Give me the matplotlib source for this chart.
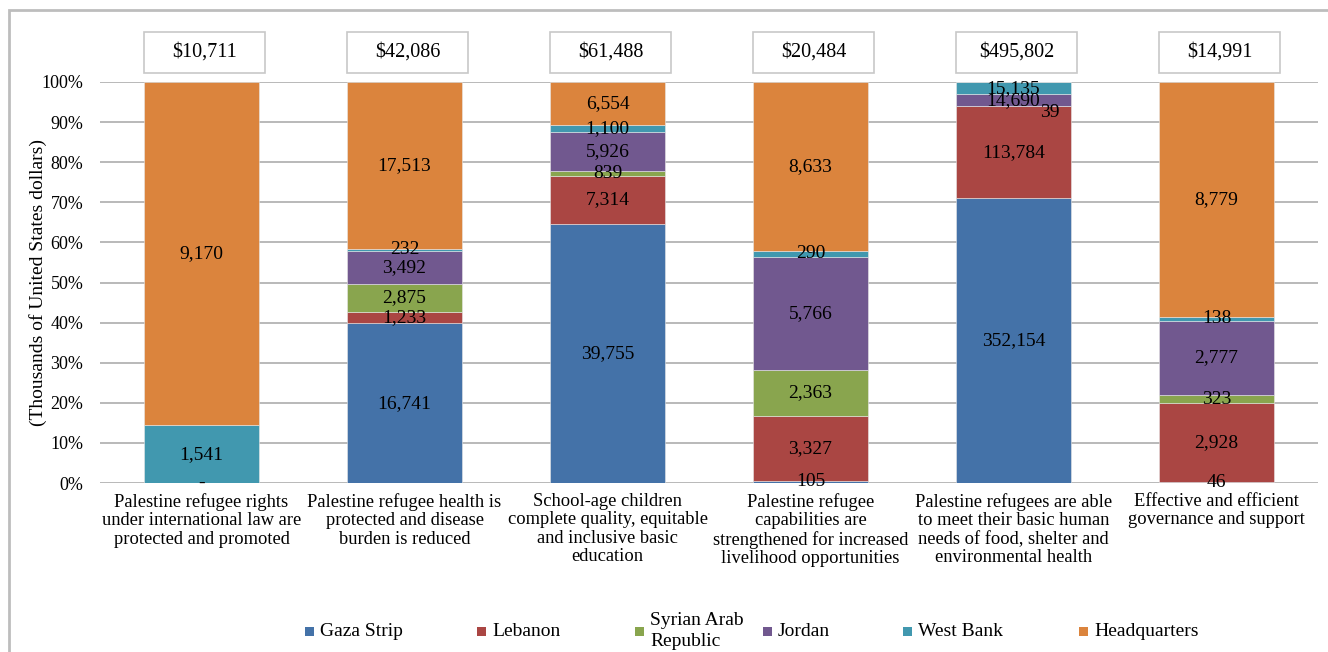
import numpy as np
import matplotlib
matplotlib.use("Agg")
import matplotlib.pyplot as plt
from matplotlib.patches import Rectangle
from matplotlib.ticker import FuncFormatter

plt.rcParams['font.family'] = ['Liberation Serif', 'DejaVu Serif']

categories = [
    "Palestine refugee rights\nunder international law are\nprotected and promoted",
    "Palestine refugee health is\nprotected and disease\nburden is reduced",
    "School-age children\ncomplete quality, equitable\nand inclusive basic\neducation",
    "Palestine refugee\ncapabilities are\nstrengthened for increased\nlivelihood opportunities",
    "Palestine refugees are able\nto meet their basic human\nneeds of food, shelter and\nenvironmental health",
    "Effective and efficient\ngovernance and support",
]
totals = ["$10,711", "$42,086", "$61,488", "$20,484", "$495,802", "$14,991"]

series = ["Gaza Strip", "Lebanon", "Syrian Arab\nRepublic", "Jordan", "West Bank", "Headquarters"]
colors = ["#4472A8", "#AA4643", "#89A54E", "#71588F", "#4198AF", "#DB843D"]

# thousands of US dollars, one list per field
gaza = [0, 16741, 39755, 105, 352154, 46]
lebanon = [0, 1233, 7314, 3327, 113784, 2928]
syria = [0, 2875, 839, 2363, 39, 323]
jordan = [0, 3492, 5926, 5766, 14690, 2777]
west_bank = [1541, 232, 1100, 290, 15135, 138]
headquarters = [9170, 17513, 6554, 8633, 0, 8779]

values = np.array([gaza, lebanon, syria, jordan, west_bank, headquarters], dtype=float)
shares = values / values.sum(axis=0) * 100

W, H = 1328, 652
fig = plt.figure(figsize=(W / 100, H / 100), dpi=100)
ax = fig.add_axes([100 / W, (H - 483) / H, 1218 / W, 401 / H])

x = np.arange(len(categories))
bottom = np.zeros(len(categories))
for k in range(len(series)):
    bars = ax.bar(x, shares[k], 0.57, bottom=bottom, color=colors[k],
                  edgecolor="#e8e8e8", linewidth=0.4, zorder=2)
    labels = []
    for j, v in enumerate(values[k]):
        if v > 0:
            labels.append(f"{int(v):,}")
        elif k == 0 and j == 0:
            labels.append("-")
        else:
            labels.append("")
    txts = ax.bar_label(bars, labels=labels, label_type="center", fontsize=14, color="black")
    if k == 2:
        # tiny Syria segment in the food/shelter bar: label sits just right of centre
        txts[4].set_text("")
        ax.text(x[4] + 0.18, bottom[4] - 1.6, labels[4], ha="center", va="center",
                fontsize=14, zorder=3)
    bottom += shares[k]

ax.set_xlim(-0.5, len(categories) - 0.5)
ax.set_ylim(0, 100)
ax.set_yticks(np.arange(0, 101, 10))
ax.yaxis.set_major_formatter(FuncFormatter(lambda v, p: f"{int(v)}%"))
ax.grid(axis="y", color="#a6a6a6", linewidth=1.1, zorder=0)
ax.set_axisbelow(True)
for s in ax.spines.values():
    s.set_visible(False)
ax.tick_params(axis="y", length=0, pad=12, labelsize=13)
ax.tick_params(axis="x", length=0, pad=7, labelsize=13.3)
ax.set_xticks(x)
ax.set_xticklabels(categories, linespacing=1.12)
ax.set_ylabel("(Thousands of United States dollars)", fontsize=14, labelpad=-4)

# total boxes above the bars
for j, t in enumerate(totals):
    ax.add_patch(Rectangle((x[j] - 0.285, 1.0224), 0.6, 0.1023,
                           transform=ax.get_xaxis_transform(), clip_on=False,
                           facecolor="white", edgecolor="#c8c8c8", linewidth=1.2))
    ax.text(x[j] + 0.015, 1.0736, t, transform=ax.get_xaxis_transform(),
            ha="center", va="center", fontsize=14.5)

# legend drawn by hand in pixel positions
leg_x = [305, 477, 635, 763, 903, 1079]
for k in range(len(series)):
    fig.patches.append(Rectangle((leg_x[k] / W, (H - 636) / H), 9 / W, 9 / H,
                                 transform=fig.transFigure, facecolor=colors[k],
                                 edgecolor="none"))
    fig.text((leg_x[k] + 15) / W, (H - 631) / H, series[k], ha="left", va="center",
             fontsize=14, linespacing=1.3)

# chart frame
fig.patches.append(Rectangle((8.5 / W, -0.05), 1.2, (H - 9.5) / H + 0.05,
                             transform=fig.transFigure, facecolor="none",
                             edgecolor="#bdbdbd", linewidth=2))

fig.savefig("out.png", dpi=100)
